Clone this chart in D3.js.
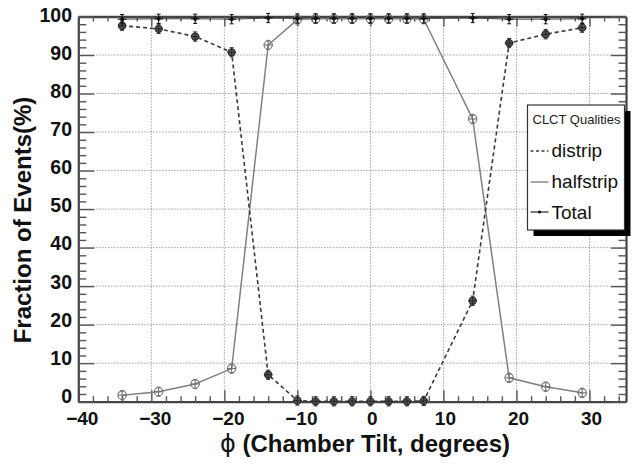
<!DOCTYPE html>
<html>
<head>
<meta charset="utf-8">
<script src="https://cdn.jsdelivr.net/npm/d3@7"></script>
<style>
  body { margin: 0; background: #fff; }
  svg { display: block; }
  text { font-family: "Liberation Sans", Arial, Helvetica, sans-serif; }
</style>
</head>
<body>
<svg id="chart" width="637" height="466"></svg>
<script>
// Chamber tilt angles (degrees) and CLCT quality fractions (%)
const angles    = [-34, -29, -24, -19, -14, -10, -7.5, -5, -2.5, 0, 2.5, 5, 7.3, 14, 19, 24, 29];
const distrip   = [97.6, 96.8, 94.8, 90.7, 7.0, 0.3, 0.1, 0.1, 0.1, 0.1, 0.1, 0.1, 0.2, 26.2, 93.1, 95.4, 97.1];
const halfstrip = [1.7, 2.6, 4.6, 8.6, 92.6, 99.2, 99.4, 99.4, 99.4, 99.4, 99.4, 99.4, 99.3, 73.4, 6.2, 3.9, 2.3];
const total     = [99.3, 99.4, 99.4, 99.3, 99.6, 99.5, 99.5, 99.5, 99.5, 99.5, 99.5, 99.5, 99.5, 99.6, 99.3, 99.3, 99.4];
// measurement uncertainties
const angleErr = [0.6];
const fracErr  = [1.2];

const xTickValues = [-40, -30, -20, -10, 0, 10, 20, 30];
const yTickValues = [0, 10, 20, 30, 40, 50, 60, 70, 80, 90, 100];
const seriesNames = ["distrip", "halfstrip", "Total"];
const legendTitle = "CLCT Qualities";
const xTitle = "(Chamber Tilt, degrees)";
const yTitle = "Fraction of Events(%)";

const svg = d3.select("#chart");
const x = d3.scaleLinear().domain([-40, 35]).range([78.3, 626]);
const y = d3.scaleLinear().domain([0, 100]).range([401.7, 16.5]);
// tick labels sit on a slightly tighter ladder than the grid
const yLab = d3.scaleLinear().domain([0, 100]).range([395.7, 15]);

const plotL = x.range()[0], plotR = x.range()[1];
const plotT = y.range()[1], plotB = y.range()[0];

svg.append("rect").attr("width", 637).attr("height", 466).attr("fill", "#fff");

// dotted grid
const grid = svg.append("g").attr("stroke", "#8a8a8a").attr("stroke-width", 1)
  .attr("stroke-dasharray", "1.2,1.8");
grid.selectAll("line.gx").data(xTickValues.filter(v => v > -40)).join("line")
  .attr("class", "gx")
  .attr("x1", d => x(d)).attr("x2", d => x(d)).attr("y1", plotT).attr("y2", plotB);
grid.selectAll("line.gy").data(yTickValues.filter(v => v > 0 && v < 100)).join("line")
  .attr("class", "gy")
  .attr("x1", plotL).attr("x2", plotR).attr("y1", d => y(d)).attr("y2", d => y(d));

// axis frames with inward ticks
const minorX = d3.range(-40, 35.01, 2);
const minorY = d3.range(0, 100.01, 2);
const isMajor = v => Math.abs(v % 10) < 1e-6;

const axB = d3.axisBottom(x).tickValues(minorX).tickSizeInner(0).tickSizeOuter(0).tickFormat("");
const axT = d3.axisTop(x).tickValues(minorX).tickSizeInner(0).tickSizeOuter(0).tickFormat("");
const axL = d3.axisLeft(y).tickValues(minorY).tickSizeInner(0).tickSizeOuter(0).tickFormat("");
const axR = d3.axisRight(y).tickValues(minorY).tickSizeInner(0).tickSizeOuter(0).tickFormat("");

function styleAxis(g, w) {
  g.select(".domain").attr("stroke", "#444").attr("stroke-width", w);
  g.selectAll(".tick line").attr("stroke", "#555").attr("stroke-width", 1.4);
}
const gB = svg.append("g").attr("transform", `translate(0,${plotB})`).call(axB);
gB.selectAll(".tick line").attr("y2", d => isMajor(d) ? -11.5 : -5.5);
styleAxis(gB, 2.2);
const gT = svg.append("g").attr("transform", `translate(0,${plotT})`).call(axT);
gT.selectAll(".tick line").attr("y2", d => isMajor(d) ? 10 : 5);
styleAxis(gT, 2.6);
const gL = svg.append("g").attr("transform", `translate(${plotL},0)`).call(axL);
gL.selectAll(".tick line").attr("x2", d => isMajor(d) ? 16 : 8);
styleAxis(gL, 2.2);
const gR = svg.append("g").attr("transform", `translate(${plotR},0)`).call(axR);
gR.selectAll(".tick line").attr("x2", d => isMajor(d) ? -15 : -7.5);
styleAxis(gR, 2.2);

// tick labels
const fmt = v => v < 0 ? "\u2212" + Math.abs(v) : String(v);
svg.append("g").selectAll("text").data(xTickValues).join("text")
  .attr("x", d => x(d) + (d < 0 ? 4 : 2)).attr("y", 424.5)
  .attr("text-anchor", "middle").attr("font-size", 19).attr("font-weight", "bold")
  .attr("fill", "#111").text(fmt);
svg.append("g").selectAll("text").data(yTickValues).join("text")
  .attr("x", 72).attr("y", d => yLab(d)).attr("dy", "0.36em")
  .attr("text-anchor", "end").attr("font-size", 19.5).attr("font-weight", "bold")
  .attr("fill", "#111").text(d => d);

// axis titles
const xt = svg.append("text").attr("x", 365).attr("y", 451.5).attr("text-anchor", "middle")
  .attr("font-size", 24).attr("font-weight", "bold").attr("fill", "#111");
xt.append("tspan").attr("font-family", "DejaVu Sans").attr("font-weight", "normal").text("\u03D5");
xt.append("tspan").text(" " + xTitle);
svg.append("text").attr("transform", "translate(31,220) rotate(-90)")
  .attr("text-anchor", "middle").attr("font-size", 24).attr("font-weight", "bold")
  .attr("fill", "#111").text(yTitle);

// series lines
const pts = vals => angles.map((a, i) => [a, vals[i]]);
const line = d3.line().x(d => x(d[0])).y(d => y(d[1]));
const plot = svg.append("g");
plot.append("path").datum(pts(total)).attr("d", line)
  .attr("fill", "none").attr("stroke", "#333").attr("stroke-width", 0.9);
plot.append("path").datum(pts(halfstrip)).attr("d", line)
  .attr("fill", "none").attr("stroke", "#808080").attr("stroke-width", 1.5);
plot.append("path").datum(pts(distrip)).attr("d", line)
  .attr("fill", "none").attr("stroke", "#3a3a3a").attr("stroke-width", 1.6)
  .attr("stroke-dasharray", "4,3");

// markers with error crosses
function errorMarks(g, data, color, fillColor, r) {
  const m = g.selectAll("g").data(data).join("g")
    .attr("transform", d => `translate(${x(d[0])},${y(d[1])})`);
  const ex = x(angleErr[0]) - x(0);
  const ey = y(0) - y(fracErr[0]);
  m.append("circle").attr("r", r).attr("fill", fillColor).attr("stroke", color).attr("stroke-width", 1.1);
  m.append("line").attr("x1", -ex).attr("x2", ex).attr("stroke", color).attr("stroke-width", 1.1);
  m.append("line").attr("y1", -ey).attr("y2", ey).attr("stroke", color).attr("stroke-width", 1.1);
  m.append("line").attr("x1", -2).attr("x2", 2).attr("y1", -ey).attr("y2", -ey).attr("stroke", color);
  m.append("line").attr("x1", -2).attr("x2", 2).attr("y1", ey).attr("y2", ey).attr("stroke", color);
}
errorMarks(plot.append("g"), pts(halfstrip), "#707070", "none", 4.2);
errorMarks(plot.append("g"), pts(distrip), "#2a2a2a", "#555", 3.6);
errorMarks(plot.append("g"), pts(total), "#111", "#111", 1.4);

// legend with drop shadow
const lg = svg.append("g");
const lx = 527.5, ly = 105, lw = 97, lh = 125;
lg.append("rect").attr("x", lx + 6).attr("y", ly + 6).attr("width", lw).attr("height", lh).attr("fill", "#000");
lg.append("rect").attr("x", lx).attr("y", ly).attr("width", lw).attr("height", lh)
  .attr("fill", "#fff").attr("stroke", "#333").attr("stroke-width", 1.2);
lg.append("text").attr("x", lx + 5).attr("y", 123.5).attr("font-size", 13)
  .attr("fill", "#222").text(legendTitle);
const rows = lg.selectAll("g.row").data(seriesNames).join("g")
  .attr("class", "row")
  .attr("transform", (d, i) => `translate(0,${151 + i * 31})`);
rows.append("text").attr("x", lx + 24).attr("y", 6).attr("font-size", 19).attr("fill", "#111").text(d => d);
rows.filter((d, i) => i === 0).append("line").attr("x1", lx + 3).attr("x2", lx + 21)
  .attr("stroke", "#3a3a3a").attr("stroke-width", 1.4).attr("stroke-dasharray", "3,2.5");
rows.filter((d, i) => i === 1).append("line").attr("x1", lx + 3).attr("x2", lx + 21)
  .attr("stroke", "#808080").attr("stroke-width", 1.4);
const tRow = rows.filter((d, i) => i === 2);
tRow.append("line").attr("x1", lx + 3).attr("x2", lx + 21).attr("y1", -1).attr("y2", -1)
  .attr("stroke", "#222").attr("stroke-width", 1.2);
tRow.append("circle").attr("cx", lx + 12).attr("cy", -1).attr("r", 1.6).attr("fill", "#111");
</script>
</body>
</html>
